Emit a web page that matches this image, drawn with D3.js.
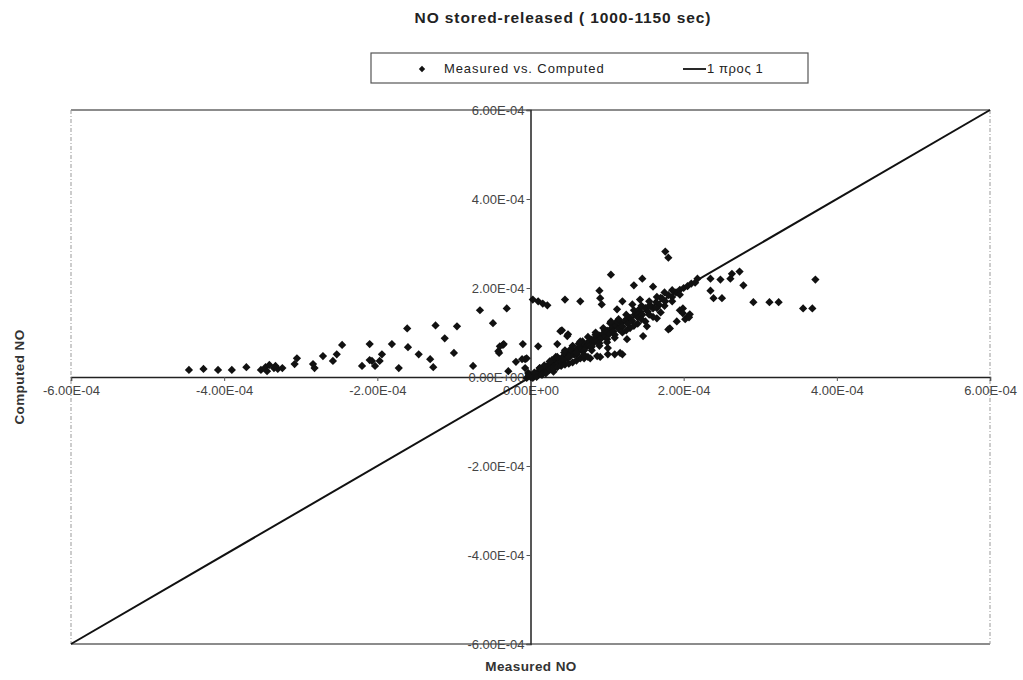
<!DOCTYPE html>
<html>
<head>
<meta charset="utf-8">
<script src="https://cdn.jsdelivr.net/npm/d3@7/dist/d3.min.js"></script>
<style>
  html, body { margin: 0; padding: 0; background: #fff; }
  svg { display: block; font-family: "Liberation Sans", Arial, sans-serif; }
</style>
</head>
<body>
<svg id="chart" width="1023" height="680"></svg>
<script>
// Values are given in units of 1e-4
const UNIT = 1e-4;

// Measured NO (x) / Computed NO (y) pairs
const measuredNO = [
  -4.46,-4.27,-4.08,-3.90,-3.71,-3.52,-3.46,-3.41,-3.35,-3.30,-3.24,-3.44,-3.33,-3.08,-3.05,-2.84,-2.82,-2.71,-2.53,-2.58,
  -2.46,-2.20,-2.10,-2.10,-2.07,-2.03,-1.97,-1.94,-1.81,-1.72,-1.61,-1.60,-1.46,-1.31,-1.27,-1.24,-1.12,-1.00,-0.96,-0.75,
  -0.66,-0.49,-0.41,-0.36,-0.31,-0.19,-0.10,-0.42,-0.40,-0.35,-0.07,-0.05,-0.29,-0.11,-0.07,-0.03,-0.05,-0.02,
  0.03,0.10,0.16,0.22,0.45,0.65,0.90,0.91,0.93,1.05,1.35,1.46,1.60,1.76,1.80,1.13,1.20,1.33,1.43,1.43,1.04,1.10,
  1.95,2.02,2.06,1.82,2.08,1.99,2.18,2.35,2.39,2.50,2.35,2.48,2.61,2.63,2.73,2.78,2.91,3.12,3.24,3.56,3.68,3.72,
  0.10,0.35,0.41,0.49,0.39,0.48,0.65,0.78,0.87,0.91,1.01,1.10,1.20,1.01,1.17,1.26,1.47,1.52,1.65,1.80,1.91,1.99,2.07,
  0.02,0.05,0.06,0.08,0.10,0.12,0.14,0.16,0.18,0.20,0.22,0.24,0.26,0.28,0.30,0.32,0.34,0.36,0.38,0.40,
  0.42,0.44,0.46,0.48,0.50,0.52,0.55,0.57,0.60,0.62,0.65,0.67,0.70,0.72,0.75,0.77,0.80,0.82,0.85,0.87,
  0.90,0.92,0.95,0.98,1.00,1.03,1.06,1.08,1.12,1.15,1.18,1.20,1.24,1.27,1.30,1.33,1.36,1.40,1.43,1.46,
  1.50,1.53,1.57,1.60,1.64,1.68,1.72,1.76,1.80,1.85,1.90,1.95,2.00,2.05,2.10,2.15,
  0.10,0.15,0.20,0.25,0.30,0.35,0.40,0.45,0.50,0.55,0.60,0.70,0.75,
  0.60,0.70,0.80,0.90,1.00,1.10,1.20,1.30,1.40,1.50,1.60,1.70,
  0.05,0.12,0.18,0.28,0.33,0.44,0.52,0.63,0.68,0.85,0.97,1.13,1.38,1.55,1.70,
  0.00,0.03,-0.02,0.08,0.15,0.20,0.30,0.12,0.25,0.35,0.50,0.60,0.70,0.80,0.90,1.00,1.10,1.25,1.35,1.45,
  1.55,1.65,1.75,1.85,1.95,0.45,0.55,0.65,0.75,0.85,0.95,1.05,1.15,1.25,1.35,1.45,1.55,1.65,1.75,1.85
];
const computedNO = [
  0.16,0.18,0.16,0.16,0.22,0.16,0.22,0.27,0.20,0.18,0.20,0.13,0.25,0.29,0.42,0.29,0.20,0.47,0.51,0.36,
  0.72,0.25,0.74,0.38,0.36,0.25,0.36,0.51,0.74,0.20,1.09,0.67,0.51,0.40,0.22,1.16,0.87,0.54,1.14,0.25,
  1.50,1.21,0.54,0.72,1.54,0.34,0.74,0.58,0.69,0.74,0.40,0.42,0.13,0.40,0.20,0.09,-0.02,0.05,
  1.74,1.70,1.65,1.61,1.74,1.70,1.94,1.77,1.63,2.30,2.06,2.21,2.03,2.82,2.68,1.52,1.70,1.63,1.74,1.54,1.21,1.18,
  1.50,1.30,1.36,1.09,1.41,1.54,2.21,1.94,1.77,1.77,2.21,2.19,2.21,2.32,2.37,2.06,1.68,1.68,1.68,1.54,1.54,2.19,
  0.69,0.74,1.05,0.96,1.03,0.92,0.42,0.42,0.47,0.45,0.51,0.51,0.51,0.65,0.54,0.85,0.92,1.14,1.32,1.07,1.25,1.43,1.34,
  0.03,0.02,0.08,0.05,0.12,0.08,0.15,0.11,0.20,0.16,0.25,0.20,0.28,0.22,0.33,0.27,0.36,0.30,0.40,0.35,
  0.45,0.38,0.50,0.42,0.53,0.47,0.58,0.50,0.62,0.56,0.68,0.60,0.73,0.66,0.78,0.70,0.84,0.76,0.88,0.80,
  0.93,0.86,0.98,0.92,1.04,0.97,1.10,1.02,1.15,1.08,1.22,1.14,1.28,1.20,1.33,1.26,1.40,1.34,1.47,1.40,
  1.55,1.47,1.60,1.54,1.68,1.62,1.76,1.70,1.84,1.80,1.90,1.96,2.00,2.04,2.10,2.12,
  0.05,0.10,0.12,0.16,0.18,0.22,0.25,0.28,0.30,0.33,0.37,0.42,0.45,
  0.50,0.60,0.68,0.76,0.85,0.95,1.00,1.10,1.20,1.25,1.35,1.45,
  0.10,0.20,0.26,0.38,0.45,0.55,0.62,0.75,0.80,0.95,1.05,1.25,1.45,1.60,1.78,
  0.00,-0.02,0.02,0.00,0.05,0.08,0.12,0.20,0.35,0.45,0.45,0.55,0.50,0.60,0.70,0.78,0.88,1.05,1.15,1.30,
  1.40,1.55,1.60,1.70,1.85,0.60,0.70,0.80,0.90,1.00,1.10,1.25,1.30,1.40,1.50,1.60,1.70,1.80,1.90,1.95
];

// 1:1 reference line endpoints
const refLine = [-6, 6];

// Axis tick values
const xTicks = [-6, -4, -2, 0, 2, 4, 6];
const yTicks = [-6, -4, -2, 0, 2, 4, 6];

const titleText = "NO stored-released ( 1000-1150 sec)";
const legendLabels = ["Measured vs. Computed", "1 \u03c0\u03c1\u03bf\u03c2 1"];
const xTitle = "Measured NO";
const yTitle = "Computed NO";

const points = measuredNO.map((m, i) => ({ x: m * UNIT, y: computedNO[i] * UNIT }));

const svg = d3.select("#chart");
const plot = { left: 71, right: 990, top: 110, bottom: 644 };

const x = d3.scaleLinear().domain([-6e-4, 6e-4]).range([plot.left, plot.right]);
const y = d3.scaleLinear().domain([-6e-4, 6e-4]).range([plot.bottom, plot.top]);

// Scientific number format with a two-digit exponent, e.g. 4.00E-04
function sci(v) {
  if (Math.abs(v) < 1e-12) return "0.00E+00";
  const neg = v < 0;
  const [mant, exp] = Math.abs(v).toExponential(2).split("e");
  const e = parseInt(exp, 10);
  const sign = e < 0 ? "-" : "+";
  return (neg ? "-" : "") + mant + "E" + sign + String(Math.abs(e)).padStart(2, "0");
}

// Plot frame
svg.append("line").attr("x1", plot.left).attr("x2", plot.right).attr("y1", plot.top).attr("y2", plot.top)
  .attr("stroke", "#666").attr("stroke-width", 1.5);
svg.append("line").attr("x1", plot.left).attr("x2", plot.right).attr("y1", plot.bottom).attr("y2", plot.bottom)
  .attr("stroke", "#666").attr("stroke-width", 1.5);
[plot.left, plot.right].forEach(px => {
  svg.append("line").attr("x1", px).attr("x2", px).attr("y1", plot.top).attr("y2", plot.bottom)
    .attr("stroke", "#999").attr("stroke-width", 1).attr("stroke-dasharray", "4,2,1,2");
});

// Axes crossing at zero
const xAxis = d3.axisBottom(x).tickValues(xTicks.map(t => t * UNIT)).tickFormat(sci).tickSize(4).tickPadding(5);
const yAxis = d3.axisLeft(y).tickValues(yTicks.map(t => t * UNIT)).tickFormat(sci).tickSize(4).tickPadding(2);

const gx = svg.append("g").attr("transform", `translate(0,${y(0)})`).call(xAxis);
const gy = svg.append("g").attr("transform", `translate(${x(0)},0)`).call(yAxis);

[gx, gy].forEach(g => {
  g.select(".domain").attr("stroke", "#222").attr("stroke-width", 1.5);
  g.selectAll(".tick line").attr("stroke", "#555");
  g.selectAll(".tick text").attr("fill", "#444").attr("font-size", 13)
    .attr("font-family", "\"Liberation Sans\", Arial, sans-serif");
});
gy.selectAll(".tick text").attr("dy", "0.35em");

// 1:1 line
svg.append("line")
  .attr("x1", x(refLine[0] * UNIT)).attr("y1", y(refLine[0] * UNIT))
  .attr("x2", x(refLine[1] * UNIT)).attr("y2", y(refLine[1] * UNIT))
  .attr("stroke", "#111").attr("stroke-width", 2);

// Scatter markers (diamonds)
const diamond = d3.symbol().type(d3.symbolSquare).size(34);
svg.append("g").selectAll("path").data(points).join("path")
  .attr("d", diamond)
  .attr("transform", d => `translate(${x(d.x)},${y(d.y)}) rotate(45)`)
  .attr("fill", "#111");

// Title
svg.append("text").attr("x", 563).attr("y", 23).attr("text-anchor", "middle")
  .attr("font-size", 15.5).attr("font-weight", "bold").attr("letter-spacing", 0.9)
  .attr("fill", "#222").text(titleText);

// Legend
const lg = svg.append("g");
lg.append("rect").attr("x", 371).attr("y", 53).attr("width", 437).attr("height", 30)
  .attr("fill", "#fff").attr("stroke", "#555").attr("stroke-width", 1.2);
lg.append("path").attr("d", d3.symbol().type(d3.symbolSquare).size(20))
  .attr("transform", "translate(422,69) rotate(45)").attr("fill", "#111");
lg.append("text").attr("x", 444).attr("y", 73).attr("font-size", 13).attr("letter-spacing", 0.9)
  .attr("fill", "#222").text(legendLabels[0]);
lg.append("line").attr("x1", 683).attr("x2", 706).attr("y1", 69).attr("y2", 69)
  .attr("stroke", "#111").attr("stroke-width", 1.8);
lg.append("text").attr("x", 707).attr("y", 73).attr("font-size", 13).attr("letter-spacing", 0.6)
  .attr("fill", "#222").text(legendLabels[1]);

// Axis titles
svg.append("text").attr("x", 531).attr("y", 671).attr("text-anchor", "middle")
  .attr("font-size", 13.5).attr("font-weight", "bold").attr("letter-spacing", 0.4)
  .attr("fill", "#333").text(xTitle);
svg.append("text").attr("transform", `translate(24,${y(0)}) rotate(-90)`).attr("text-anchor", "middle")
  .attr("font-size", 13.5).attr("font-weight", "bold").attr("letter-spacing", 0.4)
  .attr("fill", "#333").text(yTitle);
</script>
</body>
</html>
